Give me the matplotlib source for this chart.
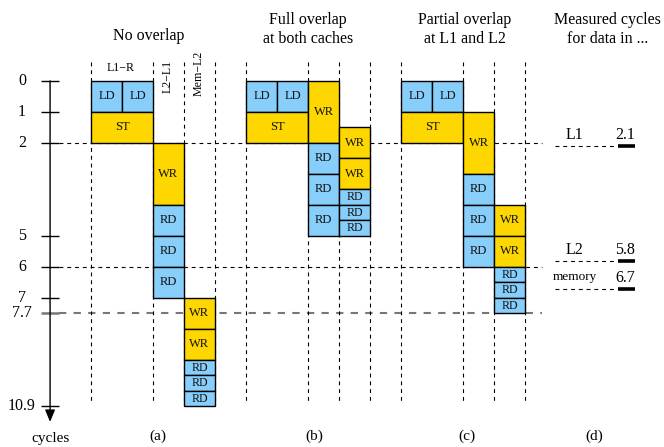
"""Cache access timing diagram: load/store, write and read slots per level."""

import matplotlib

matplotlib.use("Agg")
import matplotlib.pyplot as plt
from matplotlib.patches import Rectangle

plt.rcParams["font.family"] = ["Liberation Serif", "DejaVu Serif"]

BLUE = "#87cefa"
GOLD = "#ffd700"
INK = "#111111"

# operations shared by the three schemes: label, column, column span, duration (cycles)
OPS = ["LD", "LD", "ST", "WR", "RD", "RD", "RD", "WR", "WR", "RD", "RD", "RD"]
OP_COLS = [0, 1, 0, 2, 2, 2, 2, 3, 3, 3, 3, 3]
OP_SPAN = [1, 1, 2, 1, 1, 1, 1, 1, 1, 1, 1, 1]
OP_DUR = [1, 1, 1, 2, 1, 1, 1, 1, 1, 0.5, 0.5, 0.5]

# start cycle of every operation in each scheme
START_NO_OVERLAP = [0, 0, 1, 2, 4, 5, 6, 7, 8, 9, 9.5, 10]
START_FULL = [0, 0, 1, 0, 2, 3, 4, 1.5, 2.5, 3.5, 4, 4.5]
START_PARTIAL = [0, 0, 1, 1, 3, 4, 5, 4, 5, 6, 6.5, 7]

SCHEMES = [START_NO_OVERLAP, START_FULL, START_PARTIAL]
SCHEME_TITLES = ["No overlap", "Full overlap\nat both caches", "Partial overlap\nat L1 and L2"]
PANEL_TAGS = ["(a)", "(b)", "(c)", "(d)"]

TICK_POS = [0, 1, 2, 5, 6, 7, 7.5, 10.5]
TICK_LABELS = ["0", "1", "2", "5", "6", "7", "7.7", "10.9"]

LEVELS = ["L1", "L2", "memory"]
MEASURED = [2.1, 5.8, 6.7]

GROUP_X = [0, 5, 10]
SEPARATORS = [0, 2, 3, 4]

fig = plt.figure(figsize=(6.64, 4.47), dpi=100)
ax = fig.add_axes([0, 0, 1, 1])
ax.set_xlim(-2.935, 18.48)
ax.set_ylim(11.81, -2.61)
ax.axis("off")

dash = (0, (3.5, 3.5))
AX_X = -1.32
LINE_X0, LINE_X1 = -1.61, 14.55

# horizontal reference lines
for y, color, lw in [(2, "k", 0.8), (6, "k", 0.8), (7.5, "#777777", 1.5)]:
    ax.plot([-1.03, LINE_X1], [y, y], color=color, lw=lw, linestyle=dash, zorder=1)

# vertical column separators
for gx in GROUP_X:
    for s in SEPARATORS:
        ax.plot([gx + s, gx + s], [-0.6, 10.4], color="k", lw=0.8, linestyle=dash, zorder=1)

# operation blocks
for gx, starts in zip(GROUP_X, SCHEMES):
    for op, col, span, dur, start in zip(OPS, OP_COLS, OP_SPAN, OP_DUR, starts):
        face = BLUE if op in ("LD", "RD") else GOLD
        ax.add_patch(Rectangle((gx + col, start), span, dur, facecolor=face,
                               edgecolor="k", lw=1.0, zorder=3))
        ax.text(gx + col + span / 2, start + dur / 2, op, ha="center", va="center",
                fontsize=9 if dur >= 1 else 8.6, color=INK, zorder=4)

# cycle axis with arrow
ax.annotate("", xy=(AX_X, 11.0), xytext=(AX_X, 0),
            arrowprops=dict(arrowstyle="-|>,head_length=0.6,head_width=0.25",
                            color="k", lw=1.0, mutation_scale=12, shrinkA=0, shrinkB=0))
for pos, lab in zip(TICK_POS, TICK_LABELS):
    grey = lab == "7.7"
    ax.plot([LINE_X0, -1.03], [pos, pos], color="#777777" if grey else "k",
            lw=1.8 if grey else 1.0, solid_capstyle="butt", zorder=2)
    ax.text(-2.226, pos, lab, ha="center", va="center", fontsize=11.5)
ax.text(AX_X, 11.52, "cycles", ha="center", va="center", fontsize=11)

# column headers of the no-overlap scheme
ax.text(0.97, -0.42, "L1\u2212R", ha="center", va="center", fontsize=8.6)
ax.text(2.48, -0.16, "L2\u2212L1", ha="center", va="center", rotation=90, fontsize=8.6)
ax.text(3.48, -0.24, "Mem\u2212L2", ha="center", va="center", rotation=90, fontsize=8.6)

# scheme titles
ax.text(1.87, -1.45, SCHEME_TITLES[0], ha="center", va="center", fontsize=11.5)
for cx, title in zip([6.99, 12.06], SCHEME_TITLES[1:]):
    ax.text(cx, -1.66, title, ha="center", va="center", fontsize=11.5, linespacing=1.3)
ax.text(16.65, -1.66, "Measured cycles\nfor data in ...", ha="center", va="center",
        fontsize=11.5, linespacing=1.3)

for cx, tag in zip([2.16, 7.2, 12.13, 16.24], PANEL_TAGS):
    ax.text(cx, 11.45, tag, ha="center", va="center", fontsize=11)

# measured latencies per memory level
for level, val in zip(LEVELS, MEASURED):
    ax.plot([14.97, 16.97], [val, val], color="k", lw=0.8, linestyle=dash)
    ax.plot([17.0, 17.55], [val, val], color="k", lw=2.6, solid_capstyle="butt")
    ax.text(15.6, val - 0.36, level, ha="center", va="center",
            fontsize=9.5 if level == "memory" else 11.5)
    ax.text(17.23, val - 0.34, f"{val:.1f}", ha="center", va="center", fontsize=11.5)

fig.savefig("out.png", dpi=100)
